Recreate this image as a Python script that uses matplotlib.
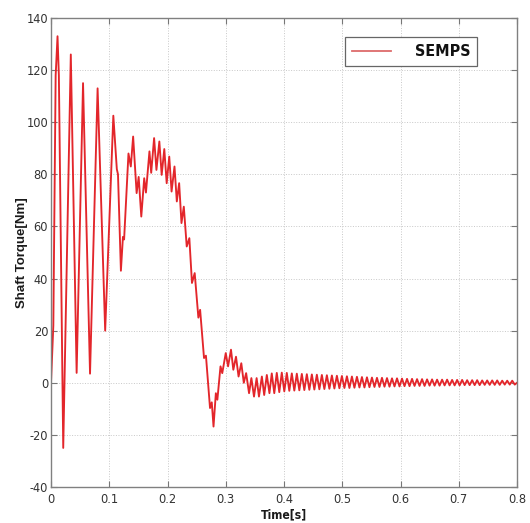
import matplotlib
matplotlib.use("Agg")
import matplotlib.pyplot as plt
from matplotlib import font_manager
from matplotlib.font_manager import FontProperties

# ---------------- data ----------------
time_main = [0.000, 0.004, 0.008, 0.0112, 0.0135, 0.021, 0.034, 0.044, 0.055, 0.067,
             0.080, 0.093, 0.107, 0.113, 0.115, 0.120, 0.1235, 0.1255, 0.133, 0.137,
             0.141, 0.147, 0.1505, 0.155, 0.160, 0.163, 0.169, 0.172, 0.177, 0.181,
             0.186, 0.190, 0.1945, 0.1986, 0.203, 0.207, 0.212, 0.216, 0.220, 0.224,
             0.228, 0.233, 0.2375, 0.242, 0.2467, 0.253, 0.256, 0.2627, 0.266, 0.273,
             0.276, 0.279, 0.283, 0.2856, 0.291, 0.294, 0.300, 0.304, 0.309, 0.313,
             0.3176, 0.322, 0.3267, 0.331, 0.335, 0.340, 0.344, 0.3485, 0.353, 0.357,
             0.362, 0.366, 0.3705, 0.375]
torque_main = [0.0, 22.0, 118.0, 133.0, 118.0, -25.0, 126.0, 3.8, 115.0, 3.5,
               113.0, 20.0, 102.5, 82.0, 80.0, 43.0, 56.0, 55.0, 88.0, 83.0,
               94.5, 72.8, 79.0, 63.8, 78.5, 73.0, 88.8, 80.6, 93.9, 81.7,
               92.6, 79.8, 89.7, 76.6, 86.8, 73.4, 83.0, 69.6, 76.6, 61.3,
               67.6, 52.3, 55.5, 38.3, 42.1, 25.0, 28.0, 9.5, 10.4, -9.7,
               -7.5, -16.8, -4.0, -6.5, 6.3, 3.7, 11.4, 6.3, 12.7, 5.0,
               10.0, 2.4, 7.5, 0.0, 3.7, -4.0, 1.8, -5.3, 1.8, -5.3,
               2.4, -4.7, 3.0, -4.0]

tail_peak_t = [0.379, 0.3876, 0.3962, 0.4048, 0.4134, 0.422, 0.4306, 0.4392, 0.4478, 0.4564,
               0.465, 0.4736, 0.4822, 0.4908, 0.4994, 0.508, 0.5166, 0.5252, 0.5338, 0.5424,
               0.551, 0.5596, 0.5682, 0.5768, 0.5854, 0.594, 0.6026, 0.6112, 0.6198, 0.6284,
               0.637, 0.6456, 0.6542, 0.6628, 0.6714, 0.68, 0.6886, 0.6972, 0.7058, 0.7144,
               0.723, 0.7316, 0.7402, 0.7488, 0.7574, 0.766, 0.7746, 0.7832, 0.7918]
tail_peak_v = [3.6, 3.8, 3.9, 3.8, 3.6, 3.5, 3.4, 3.3, 3.2, 3.1,
               3.0, 2.9, 2.8, 2.7, 2.6, 2.5, 2.4, 2.3, 2.2, 2.1,
               2.0, 1.9, 1.9, 1.8, 1.7, 1.7, 1.6, 1.5, 1.5, 1.4,
               1.4, 1.3, 1.3, 1.2, 1.2, 1.2, 1.1, 1.1, 1.1, 1.0,
               1.0, 1.0, 0.9, 0.9, 0.9, 0.9, 0.8, 0.8, 0.8]
tail_trough_t = [0.3833, 0.3919, 0.4005, 0.4091, 0.4177, 0.4263, 0.4349, 0.4435, 0.4521, 0.4607,
                 0.4693, 0.4779, 0.4865, 0.4951, 0.5037, 0.5123, 0.5209, 0.5295, 0.5381, 0.5467,
                 0.5553, 0.5639, 0.5725, 0.5811, 0.5897, 0.5983, 0.6069, 0.6155, 0.6241, 0.6327,
                 0.6413, 0.6499, 0.6585, 0.6671, 0.6757, 0.6843, 0.6929, 0.7015, 0.7101, 0.7187,
                 0.7273, 0.7359, 0.7445, 0.7531, 0.7617, 0.7703, 0.7789, 0.7875, 0.7961]
tail_trough_v = [-4.0, -3.6, -3.3, -3.1, -3.0, -2.9, -2.8, -2.7, -2.6, -2.5,
                 -2.4, -2.3, -2.2, -2.1, -2.0, -2.0, -1.9, -1.8, -1.8, -1.7,
                 -1.6, -1.6, -1.5, -1.5, -1.4, -1.4, -1.3, -1.3, -1.2, -1.2,
                 -1.2, -1.1, -1.1, -1.1, -1.0, -1.0, -1.0, -1.0, -0.9, -0.9,
                 -0.9, -0.9, -0.8, -0.8, -0.8, -0.8, -0.7, -0.7, -0.7]
time_end = [0.800]
torque_end = [0.0]

x_ticks = [0, 0.1, 0.2, 0.3, 0.4, 0.5, 0.6, 0.7, 0.8]
x_tick_labels = ["0", "0.1", "0.2", "0.3", "0.4", "0.5", "0.6", "0.7", "0.8"]
y_ticks = [-40, -20, 0, 20, 40, 60, 80, 100, 120, 140]
y_tick_labels = ["-40", "-20", "0", "20", "40", "60", "80", "100", "120", "140"]
series_name = "SEMPS"
x_label = "Time[s]"
y_label = "Shaft Torque[Nm]"

# merge the series in time order
pts = list(zip(time_main, torque_main))
pts += list(zip(tail_peak_t, tail_peak_v))
pts += list(zip(tail_trough_t, tail_trough_v))
pts += list(zip(time_end, torque_end))
pts.sort(key=lambda p: p[0])
t_all = [p[0] for p in pts]
v_all = [p[1] for p in pts]

# ---------------- fonts ----------------
available = {f.name for f in font_manager.fontManager.ttflist}
if "Liberation Sans Narrow" in available:
    narrow_kw = dict(family="Liberation Sans Narrow")
    scale = 1.0
else:
    cond = font_manager.findfont(FontProperties(family="DejaVu Sans", stretch="condensed"))
    if "Condensed" in cond:
        narrow_kw = dict(family="DejaVu Sans", stretch="condensed")
        scale = 0.92
    else:
        fam = "Liberation Sans" if "Liberation Sans" in available else "DejaVu Sans"
        narrow_kw = dict(family=fam)
        scale = 0.84
wide = "Liberation Sans" if "Liberation Sans" in available else "DejaVu Sans"

# ---------------- figure ----------------
fig = plt.figure(figsize=(5.30, 5.23), dpi=100)
ax = fig.add_axes([51 / 530, 36 / 523, 466 / 530, 469 / 523])

line, = ax.plot(t_all, v_all, color="#e3262b", linewidth=1.35, label=series_name)

ax.set_xlim(0, 0.8)
ax.set_ylim(-40, 140)
ax.set_xticks(x_ticks)
ax.set_xticklabels(x_tick_labels, fontsize=10 * scale, color="#333333", **narrow_kw)
ax.set_yticks(y_ticks)
ax.set_yticklabels(y_tick_labels, fontsize=10 * scale, color="#333333", **narrow_kw)
ax.tick_params(direction="in", length=4, width=0.8, color="#777777",
               top=True, right=True, pad=4)
ax.tick_params(axis="y", pad=2)

ax.grid(True, linestyle=":", color="#c8c8c8", linewidth=0.7)
for s in ax.spines.values():
    s.set_color("#808080")
    s.set_linewidth(1.0)

ax.set_xlabel(x_label, fontsize=9.5 * scale, fontweight="bold",
              color="#1a1a1a", **narrow_kw)
ax.xaxis.set_label_coords(0.5, -0.059)
ax.xaxis.label.set_va("center")
ax.set_ylabel(y_label, family=wide, fontsize=9.5, fontweight="bold",
              color="#1a1a1a")
ax.yaxis.set_label_coords(-0.0625, 0.5)
ax.yaxis.label.set_va("center")

leg = ax.legend(loc="upper left", bbox_to_anchor=(0.631, 0.9595),
                borderaxespad=0.0,
                fancybox=False, framealpha=1, edgecolor="#666666",
                handlelength=2.4, handletextpad=1.5, borderpad=0.45,
                prop=dict(size=12.5 * scale, weight="bold", **narrow_kw))
leg.get_frame().set_linewidth(0.9)
leg.get_lines()[0].set_color("#dd6b6b")
leg.get_lines()[0].set_linewidth(1.3)
for txt in leg.get_texts():
    txt.set_color("#111111")

fig.savefig("out.png", dpi=100)
